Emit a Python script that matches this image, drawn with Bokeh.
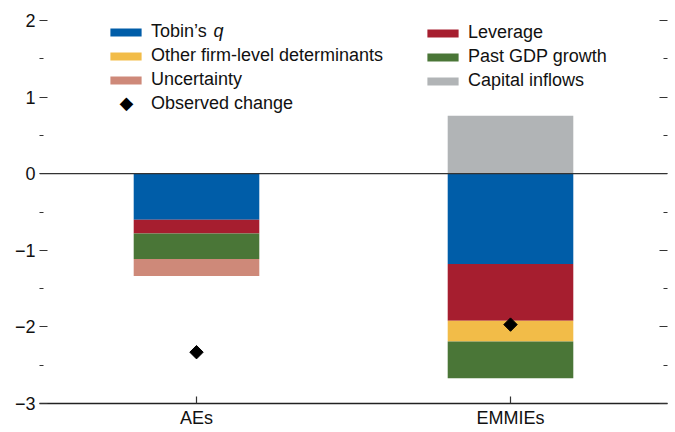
import numpy as np
from bokeh.plotting import figure
from bokeh.models import (FactorRange, Range1d, Span, LinearAxis, FixedTicker,
                          Legend, LegendItem, Label)
from bokeh.embed import file_html
from bokeh.resources import INLINE

# ---- data ----
groups = ["AEs", "EMMIEs"]
tobins_q = [-0.60, -1.18]
leverage = [-0.18, -0.74]
other_firm = [0.0, -0.27]
past_gdp = [-0.335, -0.48]
uncertainty = [-0.22, 0.0]
capital_inflows = [0.0, 0.756]
observed = [-2.33, -1.97]

y_ticks = [-3, -2, -1, 0, 1, 2]
y_minor = [-2.5, -1.5, -0.5, 0.5, 1.5]
y_labels = {-3: "\u22123", -2: "\u22122", -1: "\u22121", 0: "0", 1: "1", 2: "2"}

colors = {
    "tobin": "#005DA8",
    "leverage": "#A61E2F",
    "other": "#F2BC48",
    "gdp": "#4A7637",
    "unc": "#CE8979",
    "cap": "#B1B4B6",
}

FONT = "Liberation Sans"
FS = "18px"
TXT = "#111111"

p = figure(x_range=FactorRange(factors=groups), y_range=Range1d(-3, 2),
           width=675, height=432, output_backend="svg", toolbar_location=None,
           min_border_left=39, min_border_right=8, min_border_top=20,
           min_border_bottom=29, y_axis_location=None)
p.outline_line_color = None
p.xgrid.visible = False
p.ygrid.visible = False
p.background_fill_color = "white"
p.border_fill_color = "white"

# ---- stacked bars ----
neg_series = [("tobin", tobins_q), ("leverage", leverage), ("other", other_firm),
              ("gdp", past_gdp), ("unc", uncertainty)]
renderers = {}
cum = np.zeros(len(groups))
for key, vals in neg_series:
    vals = np.asarray(vals, dtype=float)
    top = cum.copy()
    bottom = cum + vals
    renderers[key] = p.vbar(x=groups, top=top, bottom=bottom, width=0.4,
                            fill_color=colors[key], line_color=None)
    cum = bottom
renderers["cap"] = p.vbar(x=groups, top=capital_inflows, bottom=0, width=0.4,
                          fill_color=colors["cap"], line_color=None)

p.add_layout(Span(location=0, dimension="width", line_color="#333333", line_width=1.2))

obs = p.scatter(x=groups, y=observed, marker="square", size=9.5, angle=np.pi / 4,
                fill_color="black", line_color="black")
# invisible stand-in used only for the legend entry (diamond drawn as text below)
obs_leg = p.scatter(x=[], y=[], marker="square", fill_alpha=0, line_alpha=0)

# ---- axes ----
for loc in ("left", "right"):
    ax = LinearAxis(ticker=FixedTicker(ticks=y_ticks, minor_ticks=y_minor))
    ax.axis_line_color = None
    ax.major_tick_in = 8
    ax.major_tick_out = 0
    ax.minor_tick_in = 4
    ax.minor_tick_out = 0
    ax.major_tick_line_color = "#333333"
    ax.minor_tick_line_color = "#333333"
    ax.major_tick_line_width = 1.2
    ax.minor_tick_line_width = 1.2
    ax.major_label_text_font = FONT
    ax.major_label_text_font_size = FS
    ax.major_label_text_color = TXT
    if loc == "left":
        ax.major_label_overrides = y_labels
        ax.major_label_standoff = 4
    else:
        ax.major_label_overrides = {t: "" for t in y_ticks}
        ax.major_label_standoff = 0
    p.add_layout(ax, loc)

xa = p.xaxis[0]
xa.axis_line_color = "#222222"
xa.axis_line_width = 1.5
xa.major_tick_in = 7
xa.major_tick_out = 0
xa.major_tick_line_color = "#333333"
xa.major_tick_line_width = 1.2
xa.major_label_text_font = FONT
xa.major_label_text_font_size = FS
xa.major_label_text_color = TXT
xa.major_label_standoff = 4

# ---- legends ----
def style(leg):
    leg.label_text_font = FONT
    leg.label_text_font_size = FS
    leg.label_text_color = TXT
    leg.glyph_width = 39
    leg.glyph_height = 10
    leg.label_standoff = 6
    leg.label_height = 20
    leg.spacing = 3
    leg.padding = 0
    leg.margin = 0
    leg.border_line_color = None
    leg.background_fill_alpha = 0

leg1 = Legend(items=[LegendItem(label="Tobin\u2019s", renderers=[renderers["tobin"]]),
                     LegendItem(label="Other firm-level determinants", renderers=[renderers["other"]]),
                     LegendItem(label="Uncertainty", renderers=[renderers["unc"]]),
                     LegendItem(label="Observed change", renderers=[obs_leg])],
              location=(67, 289))
leg2 = Legend(items=[LegendItem(label="Leverage", renderers=[renderers["leverage"]]),
                     LegendItem(label="Past GDP growth", renderers=[renderers["gdp"]]),
                     LegendItem(label="Capital inflows", renderers=[renderers["cap"]])],
              location=(384, 312))
for leg in (leg1, leg2):
    style(leg)
    p.add_layout(leg, "center")

p.add_layout(Label(x=174, y=373, x_units="screen", y_units="screen", text="q",
                   text_font=FONT, text_font_size=FS, text_font_style="italic",
                   text_color=TXT, text_baseline="middle"))
p.add_layout(Label(x=87, y=301, x_units="screen", y_units="screen", text="\u25C6",
                   text_font="DejaVu Sans", text_font_size="18px",
                   text_color="black", text_align="center", text_baseline="middle"))

open("out.html", "w").write(file_html(p, INLINE))
